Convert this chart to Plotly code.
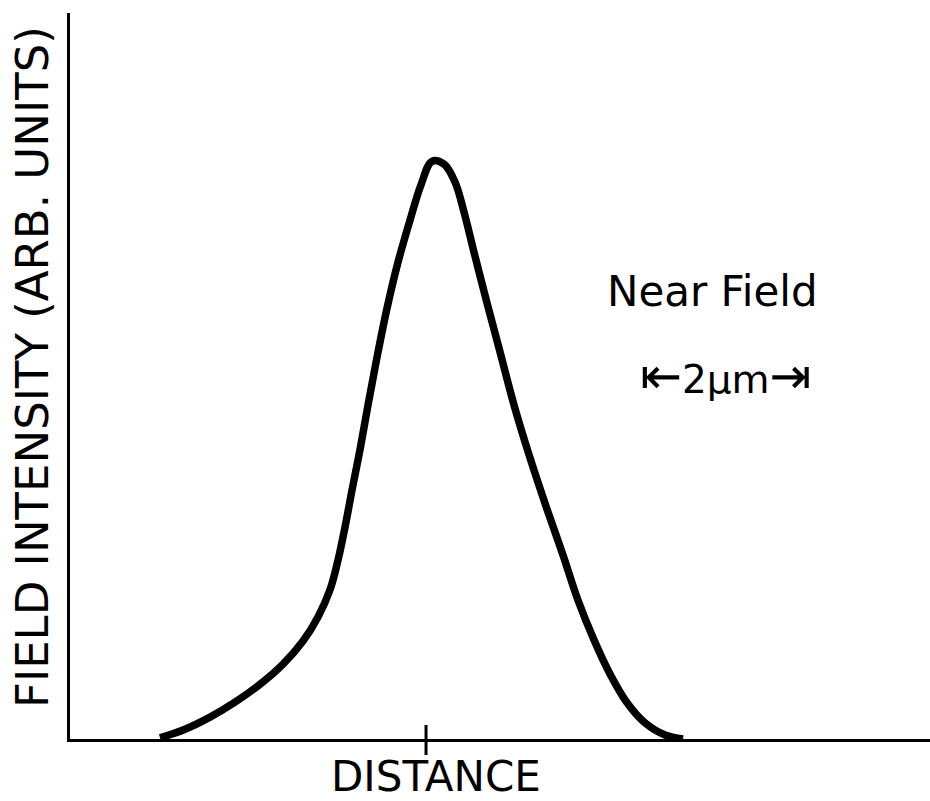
import plotly.graph_objects as go

# Near-field intensity profile across the guide (distance in µm from the marked centre)
distance_um = [-3.432, -3.110, -2.787, -2.465, -2.142, -1.845, -1.587, -1.394, -1.239,
               -1.135, -1.045, -0.955, -0.852, -0.748, -0.632, -0.503, -0.361, -0.206,
               -0.065, 0.077, 0.232, 0.374, 0.490, 0.619, 0.787, 0.955, 1.135, 1.342,
               1.561, 1.768, 1.961, 2.168, 2.374, 2.594, 2.826, 3.084, 3.316]
intensity = [0.002, 0.017, 0.038, 0.064, 0.095, 0.130, 0.170, 0.212, 0.259,
             0.311, 0.368, 0.432, 0.502, 0.580, 0.663, 0.748, 0.828, 0.901,
             0.962, 1.003, 0.998, 0.967, 0.915, 0.845, 0.757, 0.672, 0.580, 0.488,
             0.399, 0.319, 0.241, 0.172, 0.113, 0.063, 0.028, 0.007, 0.000]

tick_positions = [0.0]
x_title = "DISTANCE"
y_title = "FIELD INTENSITY (ARB. UNITS)"
panel_label = "Near Field"
scale_label = "<span style='font-size:50px'>⇤</span>2μm<span style='font-size:50px'>⇥</span>"

FONT = "DejaVu Sans"

fig = go.Figure()
fig.add_trace(go.Scatter(
    x=distance_um, y=intensity, mode="lines",
    line=dict(color="black", width=7.5, shape="spline", smoothing=1.0),
    hoverinfo="skip", showlegend=False,
))

fig.update_layout(
    width=930, height=801,
    margin=dict(l=70, r=0, t=13, b=62),
    paper_bgcolor="white", plot_bgcolor="white",
    xaxis=dict(range=[-4.594, 6.503], showgrid=False, zeroline=False,
               showline=True, linecolor="black", linewidth=3,
               tickvals=tick_positions, ticks="", showticklabels=False),
    yaxis=dict(range=[0, 1.2604], showgrid=False, zeroline=False,
               showline=True, linecolor="black", linewidth=3,
               ticks="", showticklabels=False),
)

# centre tick crossing the distance axis
for t in tick_positions:
    fig.add_shape(type="line", xref="x", yref="paper",
                  x0=t, x1=t, y0=-16 / 726, y1=14 / 726,
                  line=dict(color="black", width=3))

fig.add_annotation(text=x_title, xref="x", yref="paper", x=0.13, y=-37 / 726,
                   showarrow=False, xanchor="center", yanchor="middle",
                   font=dict(family=FONT, size=42, color="black"))
fig.add_annotation(text=y_title, xref="paper", yref="paper", x=-38 / 860, y=(739 - 367) / 726,
                   showarrow=False, xanchor="center", yanchor="middle", textangle=-90,
                   font=dict(family=FONT, size=45, color="black"))
fig.add_annotation(text=panel_label, xref="paper", yref="paper",
                   x=(712 - 70) / 860, y=(739 - 291) / 726,
                   showarrow=False, xanchor="center", yanchor="middle",
                   font=dict(family=FONT, size=42, color="black"))
fig.add_annotation(text=scale_label, xref="paper", yref="paper",
                   x=(725 - 70) / 860, y=(739 - 376) / 726,
                   showarrow=False, xanchor="center", yanchor="middle",
                   font=dict(family=FONT, size=39, color="black"))

fig.write_html("out.html")
